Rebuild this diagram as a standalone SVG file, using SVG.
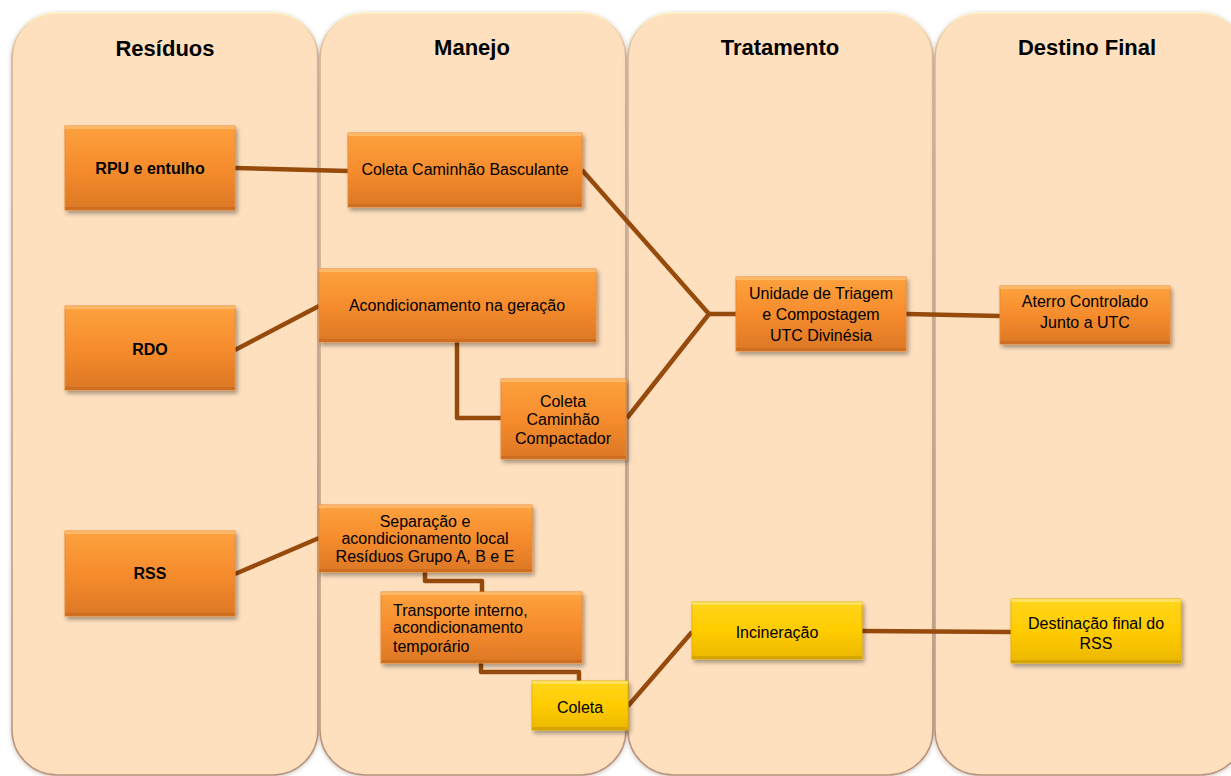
<svg xmlns="http://www.w3.org/2000/svg" width="1231" height="776" viewBox="0 0 1231 776">
<defs>
  <linearGradient id="gOr" x1="0" y1="0" x2="0" y2="1">
    <stop offset="0" stop-color="#FDA23E"/>
    <stop offset="0.5" stop-color="#F68C2D"/>
    <stop offset="1" stop-color="#DC7725"/>
  </linearGradient>
  <linearGradient id="gYe" x1="0" y1="0" x2="0" y2="1">
    <stop offset="0" stop-color="#FFD51C"/>
    <stop offset="0.5" stop-color="#FFCC00"/>
    <stop offset="1" stop-color="#ECB700"/>
  </linearGradient>
  <linearGradient id="gLaneStroke" x1="0" y1="0" x2="0" y2="1">
    <stop offset="0" stop-color="#FFF2C4"/>
    <stop offset="0.06" stop-color="#D2B094"/>
    <stop offset="1" stop-color="#B8937A"/>
  </linearGradient>
  <filter id="shNode" x="-10%" y="-10%" width="125%" height="135%">
    <feDropShadow dx="2" dy="3" stdDeviation="2" flood-color="#000" flood-opacity="0.35"/>
  </filter>
  <filter id="shLane" x="-5%" y="-5%" width="110%" height="110%">
    <feDropShadow dx="0" dy="1" stdDeviation="2" flood-color="#6b4a30" flood-opacity="0.35"/>
  </filter>
</defs>
<style>
  .lane { fill: #FEE0BF; stroke: url(#gLaneStroke); stroke-width: 1.5; filter: url(#shLane); }
  .hdr { font-family: "Liberation Sans", Arial, sans-serif; font-size: 22px; font-weight: bold; fill: #000; text-anchor: middle; }
  .or { fill: url(#gOr); stroke: #E98A35; stroke-width: 1; filter: url(#shNode); }
  .ye { fill: url(#gYe); stroke: #E2B300; stroke-width: 1; filter: url(#shNode); }
  .hiO { fill: #FFC27A; opacity: 0.7; }
  .hiY { fill: #FFE87A; opacity: 0.7; }
  .loO { fill: #B85F1A; opacity: 0.45; }
  .loY { fill: #B88E00; opacity: 0.45; }
  .t { font-family: "Liberation Sans", Arial, sans-serif; font-size: 16px; fill: #000; text-anchor: middle; }
  .tl { font-family: "Liberation Sans", Arial, sans-serif; font-size: 16px; fill: #000; text-anchor: start; }
  .tb { font-family: "Liberation Sans", Arial, sans-serif; font-size: 16px; font-weight: bold; fill: #000; text-anchor: middle; }
  .conn { fill: none; stroke: #964A0C; stroke-width: 4.5; stroke-linejoin: round; }
</style>

<rect width="1231" height="776" fill="#FFFFFF"/>

<g id="lanes">
  <g id="lane-residuos">
    <rect class="lane" x="12" y="13" width="306" height="762" rx="45" ry="45"/>
    <text class="hdr" x="165" y="56">Resíduos</text>
  </g>
  <g id="lane-manejo">
    <rect class="lane" x="320" y="13" width="306" height="762" rx="45" ry="45"/>
    <text class="hdr" x="472" y="55">Manejo</text>
  </g>
  <g id="lane-tratamento">
    <rect class="lane" x="628" y="13" width="305" height="762" rx="45" ry="45"/>
    <text class="hdr" x="780" y="55">Tratamento</text>
  </g>
  <g id="lane-destino">
    <rect class="lane" x="935" y="13" width="310" height="762" rx="45" ry="45"/>
    <text class="hdr" x="1087" y="55">Destino Final</text>
  </g>
</g>

<g id="connectors">
  <path class="conn" d="M235,168 L348,171"/>
  <path class="conn" d="M582,170 L709,314"/>
  <path class="conn" d="M627,418 L709,314"/>
  <path class="conn" d="M709,314 L736,314"/>
  <path class="conn" d="M457,342 L457,418 L501,418"/>
  <path class="conn" d="M235,350 L319,306"/>
  <path class="conn" d="M235,574 L319,538"/>
  <path class="conn" d="M425,572 L425,581 L482,581 L482,592"/>
  <path class="conn" d="M481,663 L481,672 L579,672 L579,681"/>
  <path class="conn" d="M628,706 L692,632"/>
  <path class="conn" d="M862,631 L1011,632"/>
  <path class="conn" d="M906,314 L1000,316"/>
</g>

<g id="node-rpu">
  <rect class="or" x="65" y="126" width="170" height="84"/>
  <rect class="hiO" x="65" y="126" width="170" height="3"/>
  <rect class="loO" x="65" y="207" width="170" height="3"/>
  <text class="tb" x="150" y="174">RPU e entulho</text>
</g>
<g id="node-rdo">
  <rect class="or" x="65" y="306" width="170" height="84"/>
  <rect class="hiO" x="65" y="306" width="170" height="3"/>
  <rect class="loO" x="65" y="387" width="170" height="3"/>
  <text class="tb" x="150" y="355">RDO</text>
</g>
<g id="node-rss">
  <rect class="or" x="65" y="531" width="170" height="85"/>
  <rect class="hiO" x="65" y="531" width="170" height="3"/>
  <rect class="loO" x="65" y="613" width="170" height="3"/>
  <text class="tb" x="150" y="579">RSS</text>
</g>
<g id="node-coleta-basculante">
  <rect class="or" x="348" y="133" width="234" height="74"/>
  <rect class="hiO" x="348" y="133" width="234" height="3"/>
  <rect class="loO" x="348" y="204" width="234" height="3"/>
  <text class="t" x="465" y="175">Coleta Caminhão Basculante</text>
</g>
<g id="node-acondicionamento">
  <rect class="or" x="319" y="269" width="277" height="73"/>
  <rect class="hiO" x="319" y="269" width="277" height="3"/>
  <rect class="loO" x="319" y="339" width="277" height="3"/>
  <text class="t" x="457" y="311">Acondicionamento na geração</text>
</g>
<g id="node-coleta-compactador">
  <rect class="or" x="501" y="379" width="125" height="80"/>
  <rect class="hiO" x="501" y="379" width="125" height="3"/>
  <rect class="loO" x="501" y="456" width="125" height="3"/>
  <text class="t" x="563" y="407">Coleta</text>
  <text class="t" x="563" y="425">Caminhão</text>
  <text class="t" x="563" y="444">Compactador</text>
</g>
<g id="node-separacao">
  <rect class="or" x="319" y="505" width="213" height="67"/>
  <rect class="hiO" x="319" y="505" width="213" height="3"/>
  <rect class="loO" x="319" y="569" width="213" height="3"/>
  <text class="t" x="425" y="527">Separação e</text>
  <text class="t" x="425" y="544">acondicionamento local</text>
  <text class="t" x="425" y="562">Resíduos Grupo A, B e E</text>
</g>
<g id="node-transporte">
  <rect class="or" x="381" y="592" width="201" height="71"/>
  <rect class="hiO" x="381" y="592" width="201" height="3"/>
  <rect class="loO" x="381" y="660" width="201" height="3"/>
  <text class="tl" x="393" y="616">Transporte interno,</text>
  <text class="tl" x="393" y="633">acondicionamento</text>
  <text class="tl" x="393" y="652">temporário</text>
</g>
<g id="node-coleta-rss">
  <rect class="ye" x="532" y="681" width="96" height="49"/>
  <rect class="hiY" x="532" y="681" width="96" height="3"/>
  <rect class="loY" x="532" y="727" width="96" height="3"/>
  <text class="t" x="580" y="713">Coleta</text>
</g>
<g id="node-utc">
  <rect class="or" x="736" y="277" width="170" height="74"/>
  <rect class="hiO" x="736" y="277" width="170" height="3"/>
  <rect class="loO" x="736" y="348" width="170" height="3"/>
  <text class="t" x="821" y="299">Unidade de Triagem</text>
  <text class="t" x="821" y="320">e Compostagem</text>
  <text class="t" x="821" y="341">UTC Divinésia</text>
</g>
<g id="node-incineracao">
  <rect class="ye" x="692" y="602" width="170" height="57"/>
  <rect class="hiY" x="692" y="602" width="170" height="3"/>
  <rect class="loY" x="692" y="656" width="170" height="3"/>
  <text class="t" x="777" y="638">Incineração</text>
</g>
<g id="node-aterro">
  <rect class="or" x="1000" y="286" width="170" height="58"/>
  <rect class="hiO" x="1000" y="286" width="170" height="3"/>
  <rect class="loO" x="1000" y="341" width="170" height="3"/>
  <text class="t" x="1085" y="307">Aterro Controlado</text>
  <text class="t" x="1085" y="328">Junto a UTC</text>
</g>
<g id="node-destinacao">
  <rect class="ye" x="1011" y="599" width="170" height="64"/>
  <rect class="hiY" x="1011" y="599" width="170" height="3"/>
  <rect class="loY" x="1011" y="660" width="170" height="3"/>
  <text class="t" x="1096" y="629">Destinação final do</text>
  <text class="t" x="1096" y="649">RSS</text>
</g>
</svg>
